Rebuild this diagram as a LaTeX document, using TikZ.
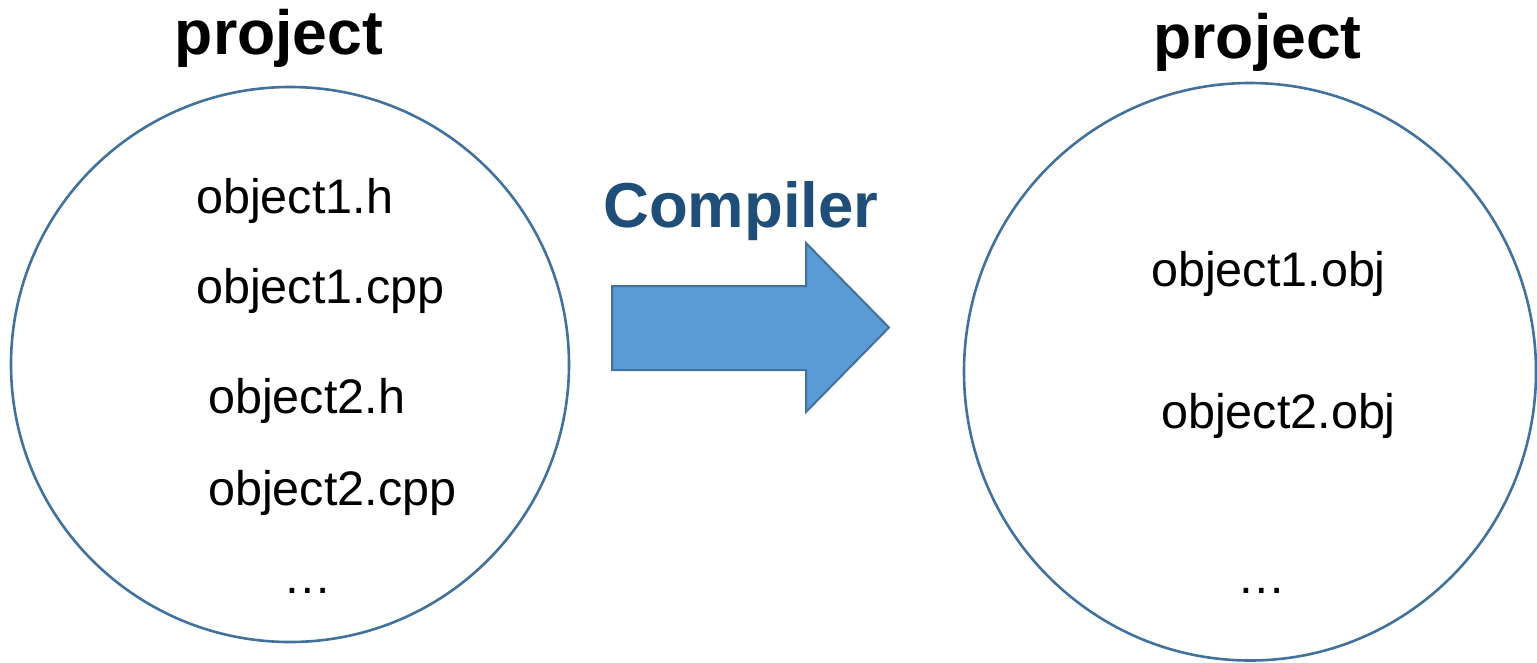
\documentclass[tikz,border=0pt]{standalone}
\usepackage{fontspec}
\setmainfont{Liberation Sans}
\usetikzlibrary{shapes.geometric}
\definecolor{rimblue}{HTML}{41719C}
\definecolor{arrowfill}{HTML}{5B9BD5}
\definecolor{labelblue}{HTML}{1F4E79}
\begin{document}
\begin{tikzpicture}[x=1pt,y=-1pt,
  pool/.style={draw=rimblue, line width=2.6pt, ellipse, inner sep=0pt, outer sep=0pt},
  headline/.style={font=\fontsize{62.5}{70}\selectfont\bfseries, inner sep=0pt, anchor=base},
  filename/.style={font=\fontsize{48.5}{56}\selectfont, inner sep=0pt, anchor=base west},
  more/.style={font=\fontsize{48.5}{56}\selectfont, inner sep=0pt, anchor=base}]
\useasboundingbox (0,0) rectangle (1537,662);

% source project
\node[pool, minimum width=558pt, minimum height=555pt] (src) at (290,364.5) {};
\node[headline] (srctitle) at (279,54) {project};
\node[filename] (h1)   at (196,213) {object1.h};
\node[filename] (cpp1) at (196,303) {object1.cpp};
\node[filename] (h2)   at (208,413) {object2.h};
\node[filename] (cpp2) at (208,505) {object2.cpp};
\node[more] (srcmore) at (308,593) {\dots};

% compiled project
\node[pool, minimum width=572pt, minimum height=577.5pt] (out) at (1250,371.75) {};
\node[headline] (outtitle) at (1257.5,58) {project};
\node[filename] (obj1) at (1151,286) {object1.obj};
\node[filename] (obj2) at (1161,428) {object2.obj};
\node[more] (outmore) at (1261.5,593) {\dots};

% compiler step: block arrow with its caption
\coordinate (tail) at (612,327.5);
\coordinate (tip)  at (889,327.5);
\draw[draw=rimblue, fill=arrowfill, line width=2pt, line join=miter]
  (tail |- 0,286) -- (806,286) -- (806,243) -- (tip) -- (806,412)
  -- (806,370) -- (tail |- 0,370) -- cycle;
\node[font=\fontsize{63.5}{70}\selectfont\bfseries, text=labelblue, inner sep=0pt,
  anchor=base west] (compiler) at (603,227) {Compiler};
\end{tikzpicture}
\end{document}
